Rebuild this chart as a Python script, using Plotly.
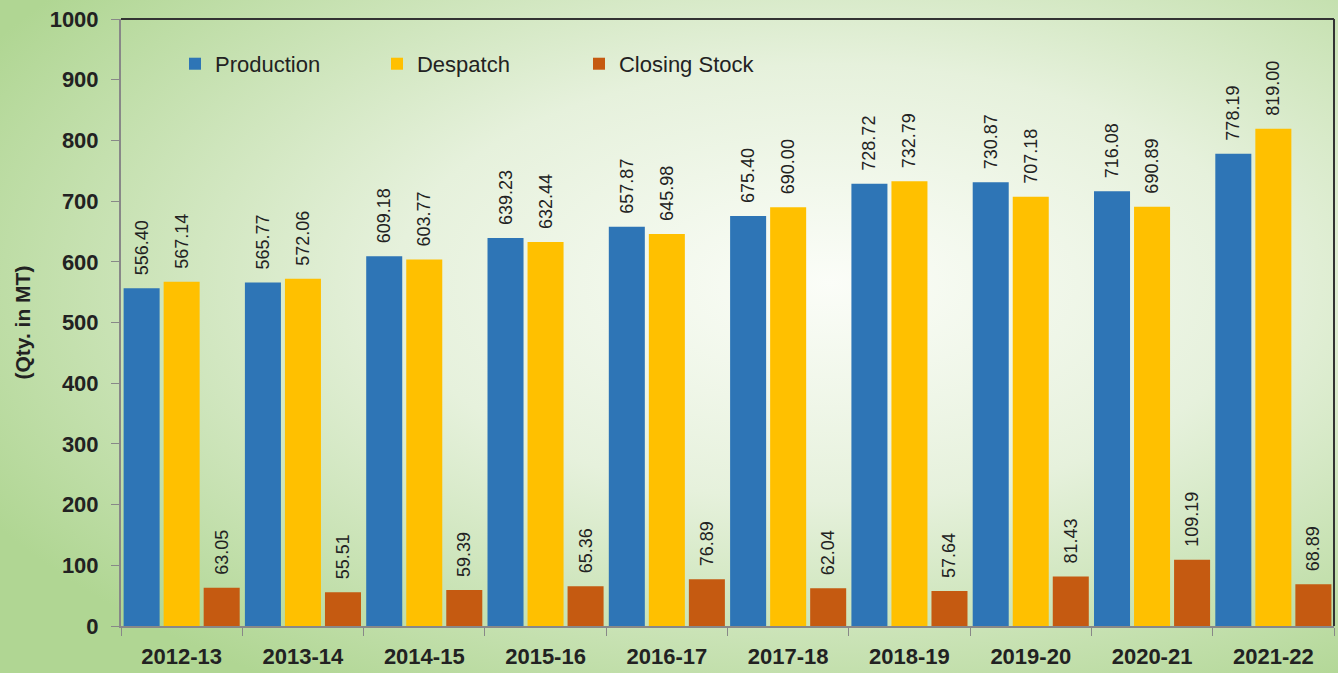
import base64
import plotly.graph_objects as go

years = ["2012-13", "2013-14", "2014-15", "2015-16", "2016-17",
         "2017-18", "2018-19", "2019-20", "2020-21", "2021-22"]
production = [556.40, 565.77, 609.18, 639.23, 657.87, 675.40, 728.72, 730.87, 716.08, 778.19]
despatch = [567.14, 572.06, 603.77, 632.44, 645.98, 690.00, 732.79, 707.18, 690.89, 819.00]
closing_stock = [63.05, 55.51, 59.39, 65.36, 76.89, 62.04, 57.64, 81.43, 109.19, 68.89]

W, H = 1338, 673
ML, MR, MT, MB = 121, 4, 19, 47
PW, PH = W - ML - MR, H - MT - MB

series = [("Production", production, "#2E75B6"),
          ("Despatch", despatch, "#FFC000"),
          ("Closing Stock", closing_stock, "#C55A11")]

fig = go.Figure()
for name, vals, col in series:
    fig.add_trace(go.Bar(
        name=name, x=years, y=vals, marker=dict(color=col, line=dict(width=0)),
        text=["\u00a0\u00a0" + f"{v:.2f}" for v in vals], textposition="outside", textangle=-90,
        constraintext="none",
        textfont=dict(family="Liberation Sans, Arial", size=18, color="#222"),
        cliponaxis=False,
    ))

svg = (f"<svg xmlns='http://www.w3.org/2000/svg' width='{W}' height='{H}'>"
       "<defs><radialGradient id='g' cx='0.62' cy='0.42' r='0.72'>"
       "<stop offset='0' stop-color='#fbfdf8'/><stop offset='0.45' stop-color='#e6f1dc'/>"
       "<stop offset='1' stop-color='#b0d693'/></radialGradient></defs>"
       f"<rect width='{W}' height='{H}' fill='url(#g)'/></svg>")
src = "data:image/svg+xml;base64," + base64.b64encode(svg.encode()).decode()

fig.update_layout(
    width=W, height=H,
    margin=dict(l=ML, r=MR, t=MT, b=MB),
    paper_bgcolor="rgba(0,0,0,0)", plot_bgcolor="rgba(0,0,0,0)",
    barmode="group", bargap=0.01, bargroupgap=0.1,
    font=dict(family="Liberation Sans, Arial", color="#222"),
    images=[dict(source=src, xref="paper", yref="paper",
                 x=-ML / PW, y=1 + MT / PH, sizex=W / PW, sizey=H / PH,
                 xanchor="left", yanchor="top", sizing="stretch", layer="below")],
    legend=dict(orientation="h", x=0.0445, xanchor="left", y=0.926, yanchor="middle",
                font=dict(size=22, color="#222"), bgcolor="rgba(0,0,0,0)",
                entrywidth=157, entrywidthmode="pixels", itemsizing="constant"),
    xaxis=dict(showline=True, linecolor="#888", linewidth=2, ticks="outside",
               tickson="boundaries", ticklen=8, tickcolor="#888", showgrid=False,
               ticklabelstandoff=10,
               tickfont=dict(size=22, color="#222", family="Liberation Sans, Arial", weight="bold")),
    yaxis=dict(range=[0, 1000], dtick=100, showline=True, linecolor="#888", linewidth=2,
               ticks="outside", ticklen=8, tickcolor="#888", showgrid=False, zeroline=False,
               ticklabelstandoff=8,
               tickfont=dict(size=22, color="#222", family="Liberation Sans, Arial", weight="bold")),
    shapes=[dict(type="line", xref="paper", yref="paper", x0=0, x1=1, y0=1, y1=1,
                 line=dict(color="#333", width=2)),
            dict(type="line", xref="paper", yref="paper", x0=1, x1=1, y0=0, y1=1,
                 line=dict(color="#333", width=2))],
    annotations=[dict(text="(Qty. in MT)", xref="paper", yref="paper",
                      x=(22 - ML) / PW, xanchor="center", y=0.5, yanchor="middle",
                      textangle=-90, showarrow=False,
                      font=dict(size=21, color="#222", weight="bold"))],
)

fig.write_html("out.html", config={"displayModeBar": False},
               post_script="document.body.style.margin='0';")
